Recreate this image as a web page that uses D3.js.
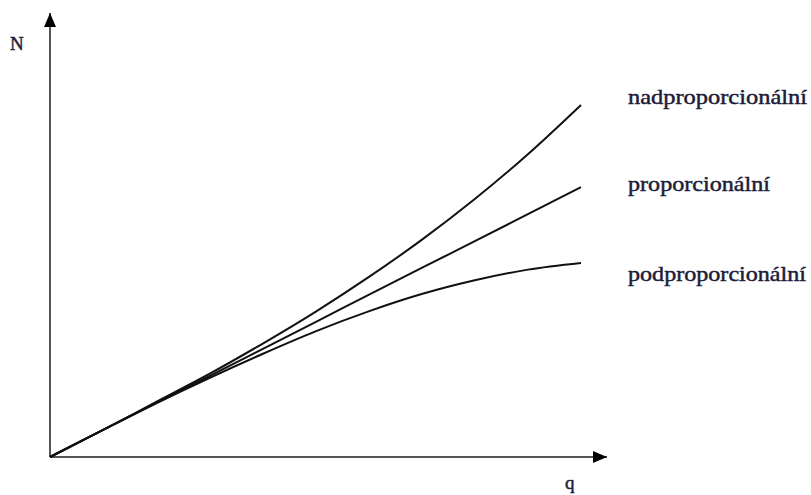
<!DOCTYPE html>
<html>
<head>
<meta charset="utf-8">
<script src="https://cdn.jsdelivr.net/npm/d3@7"></script>
<style>
  html, body { margin: 0; padding: 0; background: #fff; }
  svg { display: block; }
  text { font-family: "Liberation Serif", "Times New Roman", serif; fill: #1c1c38; stroke: #1c1c38; stroke-width: 0.45px; }
</style>
</head>
<body>
<svg id="chart" width="811" height="495"></svg>
<script>
// ---- data ----
const qValues = [0, 1, 2, 3, 4, 5, 6, 7, 8, 9, 10];
const nadproporcionalni = [0, 0.61, 1.24, 1.87, 2.55, 3.27, 4.05, 4.89, 5.81, 6.82, 7.93];
const proporcionalni    = [0, 0.61, 1.22, 1.82, 2.43, 3.04, 3.65, 4.26, 4.86, 5.47, 6.08];
const podproporcionalni = [0, 0.61, 1.21, 1.78, 2.32, 2.83, 3.28, 3.67, 3.98, 4.22, 4.37];
const seriesNames = ["nadproporcionální", "proporcionální", "podproporcionální"];
const axisLabels = ["q", "N"];

const svg = d3.select("#chart");

const x = d3.scaleLinear().domain([0, 10]).range([50, 581]);
const y = d3.scaleLinear().domain([0, 10]).range([457, 13]);

// arrow marker
const defs = svg.append("defs");
defs.append("marker")
  .attr("id", "arrow")
  .attr("viewBox", "0 0 14 12")
  .attr("refX", 14).attr("refY", 6)
  .attr("markerWidth", 14).attr("markerHeight", 12)
  .attr("markerUnits", "userSpaceOnUse")
  .attr("orient", "auto")
  .append("path")
  .attr("d", "M0,0 L14,6 L0,12 Z")
  .attr("fill", "#000");

// axes (no ticks) built with d3 axes
const xAxisScale = d3.scaleLinear().domain([0, 1]).range([50, 607]);
const yAxisScale = d3.scaleLinear().domain([0, 1]).range([457, 13]);

const gx = svg.append("g").attr("transform", "translate(0,457)")
  .call(d3.axisBottom(xAxisScale).tickValues([]).tickSizeOuter(0));
gx.select(".domain").attr("stroke", "#555").attr("stroke-width", 2)
  .attr("marker-end", "url(#arrow)")
  .attr("d", `M${xAxisScale(0)},0H${xAxisScale(1)}`);

const gy = svg.append("g").attr("transform", "translate(50,0)")
  .call(d3.axisLeft(yAxisScale).tickValues([]).tickSizeOuter(0));
gy.select(".domain").attr("stroke", "#555").attr("stroke-width", 2)
  .attr("marker-end", "url(#arrow)")
  .attr("d", `M0,${yAxisScale(0)}V${yAxisScale(1)}`);

// curves
const seriesData = [nadproporcionalni, proporcionalni, podproporcionalni];
const line = d3.line()
  .x((d, i) => x(qValues[i]))
  .y(d => y(d))
  .curve(d3.curveMonotoneX);

svg.append("g").selectAll("path")
  .data(seriesData)
  .join("path")
  .attr("d", d => line(d))
  .attr("fill", "none")
  .attr("stroke", "#111")
  .attr("stroke-width", 2);

// series labels
const labelBaselines = [104, 191, 281];
const labelWidths = [179, 142, 178];
svg.append("g").selectAll("text")
  .data(seriesNames)
  .join("text")
  .attr("x", 628)
  .attr("y", (d, i) => labelBaselines[i])
  .attr("font-size", 21)
  .attr("textLength", (d, i) => labelWidths[i])
  .attr("lengthAdjust", "spacingAndGlyphs")
  .text(d => d);

// axis labels
svg.append("text").attr("x", 565).attr("y", 489).attr("font-size", 19)
  .text(axisLabels[0]);
svg.append("text").attr("x", 10).attr("y", 50).attr("font-size", 19)
  .text(axisLabels[1]);
</script>
</body>
</html>
